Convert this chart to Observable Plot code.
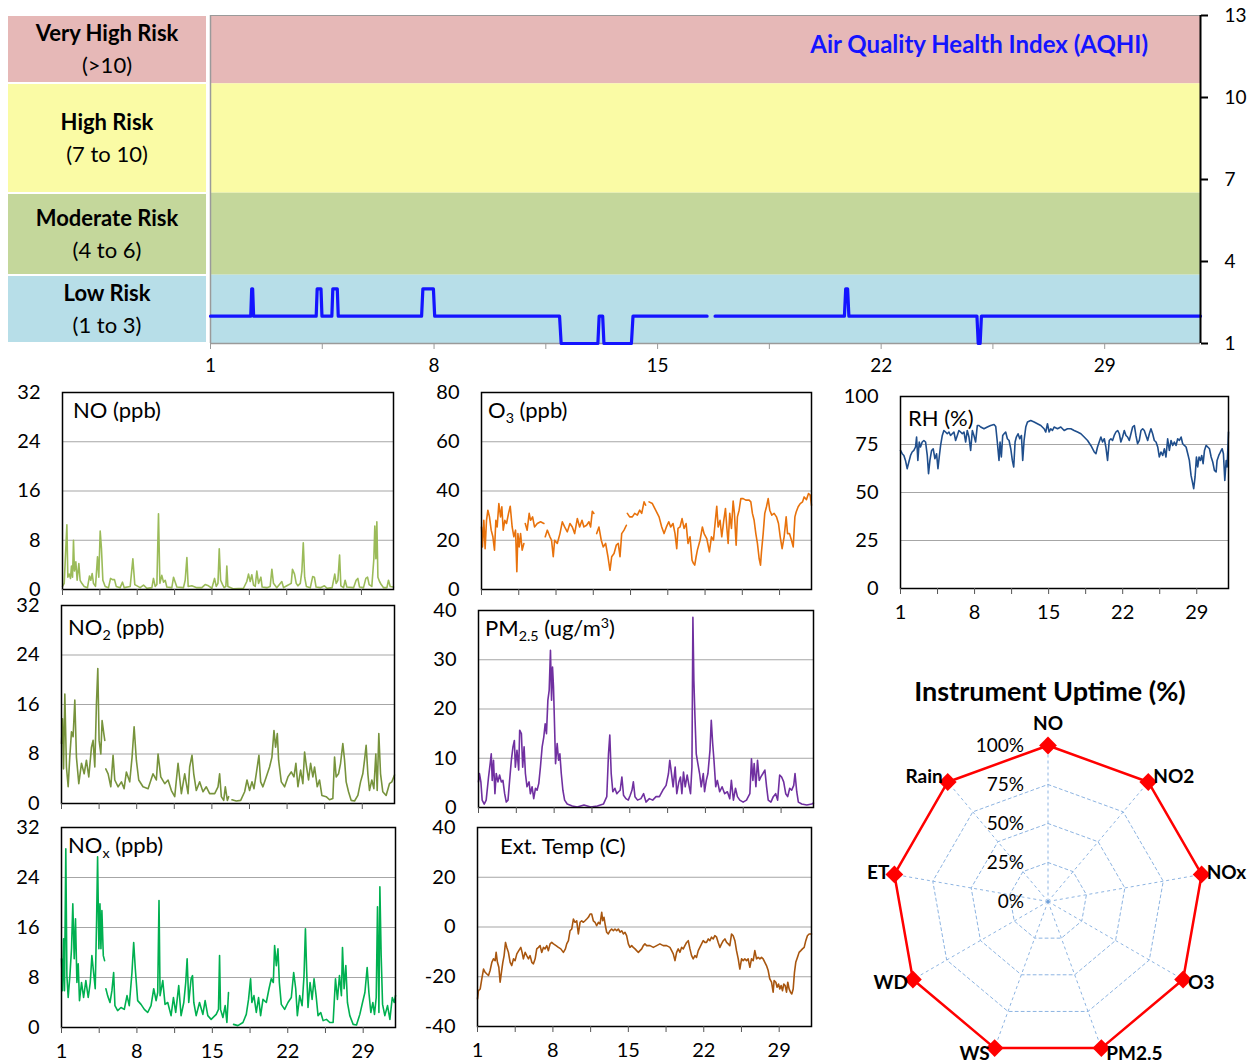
<!DOCTYPE html>
<html><head><meta charset="utf-8">
<script src="https://cdn.jsdelivr.net/npm/d3@7"></script>
<script src="https://cdn.jsdelivr.net/npm/@observablehq/plot@0.6"></script>
<style>
body{margin:0;background:#fff;font-family:Lato,"Open Sans",sans-serif;}
#root{position:relative;width:1255px;height:1064px;overflow:hidden;}
.abs{position:absolute;}
.box{position:absolute;display:flex;flex-direction:column;align-items:center;justify-content:center;font-size:22px;line-height:32px;color:#000;}
.ttl{position:absolute;font-size:22px;color:#000;white-space:nowrap;line-height:22px;}
sub,sup{font-size:0.65em;line-height:0;}
</style></head><body><div id="root"></div><script>
// ---------- data ----------
const bandNames = ["Very High Risk","High Risk","Moderate Risk","Low Risk"];
const bandRanges = ["(>10)","(7 to 10)","(4 to 6)","(1 to 3)"];
const bandLo = [10.5, 6.5, 3.5, 1];
const bandHi = [13, 10.5, 6.5, 3.5];
const bandColors = ["#E6B8B7","#FAFBA5","#C4D79B","#B7DEE8"];
const aqhiTicks = [1,4,7,10,13];
const xTicks = [1,4.5,8,11.5,15,18.5,22,25.5,29];
const xLabels = [1,8,15,22,29];

const aqhi = [[1,2],[2.26,2],[2.29,3],[2.32,3],[2.35,2],[4.31,2],[4.34,3],[4.46,3],[4.49,2],[4.80,2],[4.83,3],[4.97,3],[5.0,2],[7.61,2],[7.65,3],[7.98,3],[8.02,2],[11.93,2],[11.98,1],[13.13,1],[13.17,2],[13.28,2],[13.32,1],[14.18,1],[14.23,2],[16.55,2],[16.6,NaN],[16.8,2],[20.85,2],[20.89,3],[20.95,3],[20.99,2],[25.0,2],[25.04,1],[25.1,1],[25.14,2],[32,2]];

const noTicks = [0,8,16,24,32];
const o3Ticks = [0,20,40,60,80];
const pmTicks = [0,10,20,30,40];
const tempTicks = [-40,-20,0,20,40];
const rhTicks = [0,25,50,75,100];

const noSeries = [[1.00,0.5],[1.16,1.0],[1.41,10.5],[1.50,2],[1.62,2.5],[1.75,1.8],[1.84,3.8],[1.94,2],[2.03,8],[2.12,3],[2.25,4.5],[2.37,1.5],[2.53,4.2],[2.65,1.5],[2.81,1],[3.03,0.5],[3.34,0.3],[3.53,2.2],[3.65,1.5],[3.78,2.6],[3.90,1],[4.09,0.5],[4.28,5.3],[4.40,2],[4.53,9.5],[4.65,6.6],[4.78,1.5],[5.00,0.5],[5.31,0.3],[5.50,1.8],[5.68,1.6],[5.87,1.6],[6.03,0.5],[6.40,0.3],[6.62,1.2],[6.78,0.3],[7.34,0.5],[7.59,5],[7.77,0.8],[8.27,0.3],[8.59,0.7],[8.90,0.2],[9.37,0.3],[9.52,1.8],[9.68,0.5],[9.84,0.8],[9.99,12.3],[10.12,1],[10.30,2.3],[10.46,1.2],[10.62,1.5],[10.77,0.4],[11.24,0.3],[11.40,2],[11.55,1.2],[11.71,0.4],[12.33,0.3],[12.49,1.5],[12.65,5.2],[12.77,0.5],[13.11,0.6],[13.58,0.3],[14.05,0.3],[14.36,0.8],[14.67,0.6],[14.99,0.2],[15.24,1.8],[15.40,0.5],[15.56,1],[15.68,6.6],[15.81,1.5],[15.99,0.8],[16.14,0.3],[16.30,0.5],[16.39,3.8],[16.49,0.5],[17.02,0.1],[17.95,0.2],[18.26,1.3],[18.42,2.5],[18.58,1.3],[18.73,2.4],[18.89,0.7],[19.05,0.5],[19.20,3],[19.36,1],[19.58,2],[19.70,0.4],[20.14,0.3],[20.45,0.5],[20.61,3.3],[20.76,1],[21.07,0.3],[21.54,1.3],[21.70,0.3],[22.01,0.6],[22.42,1],[22.54,3.3],[22.73,2.5],[22.89,1],[23.05,0.6],[23.27,1],[23.42,3],[23.55,7.6],[23.68,2],[23.84,0.5],[24.21,0.3],[24.43,2.1],[24.59,2],[24.75,0.4],[25.16,0.3],[25.53,0.6],[25.78,0.2],[26.25,0.3],[26.50,2.5],[26.63,1],[26.79,1.5],[26.95,5.6],[27.07,0.6],[27.32,0.3],[27.47,1.5],[27.63,0.4],[28.26,0.3],[28.50,1.5],[28.66,1.8],[28.82,0.4],[29.19,0.3],[29.41,1.8],[29.57,2],[29.72,0.8],[29.97,0.5],[30.16,5],[30.25,10.3],[30.35,5],[30.44,11],[30.54,2],[30.69,1.3],[30.85,0.8],[31.07,0.3],[31.38,0.3],[31.53,1.5],[31.69,0.5],[32.00,0.4]];

const no2Series = [[1.00,9.7],[1.09,13.7],[1.19,5.6],[1.31,17.7],[1.46,5.9],[1.62,2.7],[1.77,7.5],[1.93,11.6],[2.08,10.8],[2.24,16.7],[2.39,7.5],[2.61,3.2],[2.86,6.5],[3.11,4.8],[3.32,7],[3.54,4.3],[3.79,9.1],[3.94,10.2],[4.10,5.9],[4.25,16],[4.38,21.8],[4.50,10.2],[4.66,8],[4.78,13.4],[4.94,11.3],[5.03,10.2],[5.07,NaN],[5.12,5.6],[5.34,4.8],[5.59,2.7],[5.80,7.8],[5.96,3.8],[6.27,2.7],[6.58,3.5],[6.83,2.4],[7.04,5.1],[7.35,3.5],[7.57,7.5],[7.76,12.4],[7.97,7],[8.19,3.8],[8.59,2.7],[9.06,2.4],[9.52,4.8],[9.83,3.8],[9.99,8],[10.24,4.3],[10.61,3.2],[10.92,3.8],[11.23,2.1],[11.54,1.1],[11.85,6.5],[12.16,1.6],[12.47,4.8],[12.78,1.6],[12.93,5.9],[13.15,7.8],[13.31,4.8],[13.55,2.1],[13.86,3.5],[14.17,1.9],[14.48,2.7],[14.79,1.6],[15.26,1.6],[15.57,2.7],[15.72,4.8],[15.88,1.1],[16.10,0.5],[16.25,2.7],[16.44,0.5],[16.56,1.1],[16.7,NaN],[16.87,0.6],[17.27,0.4],[17.68,0.5],[18.05,1.9],[18.27,3.8],[18.51,2.1],[18.73,3.5],[18.92,2.4],[19.13,4.8],[19.38,7.8],[19.54,3.5],[19.75,2.7],[20.06,4.3],[20.37,5.9],[20.59,7.5],[20.78,11.8],[20.93,9.1],[21.09,11.3],[21.21,7],[21.46,3.5],[21.77,2.7],[22.08,4.3],[22.39,5.1],[22.64,4.3],[22.82,6.5],[23.01,2.7],[23.26,5.4],[23.47,3.2],[23.63,8.3],[23.81,5.9],[24.00,3.8],[24.19,6.5],[24.40,4.3],[24.56,5.9],[24.81,2.7],[25.02,3.8],[25.24,1.3],[25.64,1.1],[25.95,0.6],[26.26,0.8],[26.42,7.5],[26.57,4.3],[26.79,4.8],[26.98,6.5],[27.19,9.7],[27.35,7],[27.50,3.5],[27.72,1.9],[27.97,0.5],[28.28,0.4],[28.59,1.3],[28.84,3.5],[29.05,4.8],[29.21,7],[29.36,9.4],[29.52,4.8],[29.67,2.1],[29.89,3.8],[30.08,2.4],[30.26,8],[30.39,2.1],[30.54,11.3],[30.70,4.8],[30.91,1.9],[31.22,1.3],[31.53,3.2],[31.75,3.5],[32.00,4.6]];

const noxSeries = [[1.00,11],[1.09,5.9],[1.19,14.2],[1.28,5.9],[1.40,28.6],[1.50,8.3],[1.62,4.8],[1.78,8.3],[1.93,12.6],[2.05,19.8],[2.18,11],[2.30,17.4],[2.43,7.2],[2.55,10.2],[2.67,4.3],[2.86,7.2],[3.05,4.8],[3.26,7.5],[3.48,4.8],[3.67,7.2],[3.82,11.5],[3.98,8.8],[4.13,6.2],[4.26,17.4],[4.35,27.3],[4.47,12.6],[4.57,19.8],[4.66,12.6],[4.75,18.7],[4.88,11.5],[5.00,10.7],[5.06,NaN],[5.12,6.2],[5.28,5.1],[5.50,4],[5.68,5.9],[5.84,8.8],[5.96,3.5],[6.21,2.7],[6.52,3.2],[6.83,2.9],[7.08,5.1],[7.29,3.5],[7.54,8.8],[7.70,13.6],[7.85,9.4],[8.07,4.3],[8.38,3.7],[8.69,2.9],[9.00,2.4],[9.31,3.5],[9.56,6.2],[9.78,4.3],[9.93,5.6],[10.05,20.3],[10.15,5.1],[10.40,7.5],[10.61,3.7],[10.86,4],[11.17,1.9],[11.39,4.8],[11.60,2.4],[11.88,6.7],[12.10,1.9],[12.35,4],[12.53,7.2],[12.66,11],[12.81,4],[13.03,7.8],[13.16,8.3],[13.28,4],[13.50,1.9],[13.81,4],[14.12,2.1],[14.33,4.3],[14.58,1.9],[14.89,1.3],[15.36,2.1],[15.57,2.9],[15.67,11.5],[15.76,2.9],[15.98,1.6],[16.19,3.5],[16.35,0.8],[16.50,5.6],[16.7,NaN],[16.97,0.5],[17.37,0.3],[17.84,0.8],[18.15,2.1],[18.36,4.5],[18.55,7.8],[18.67,4],[18.86,5.1],[19.08,2.4],[19.29,4.8],[19.48,1.9],[19.70,4.5],[20.01,4],[20.26,6.2],[20.47,7.8],[20.66,7.2],[20.78,13.1],[20.94,9.9],[21.09,12.6],[21.22,7.2],[21.40,3.7],[21.71,2.9],[22.02,4],[22.33,4.8],[22.55,8.8],[22.74,6.2],[22.89,1.9],[23.11,5.1],[23.33,3.5],[23.51,8.3],[23.64,15.8],[23.76,8.8],[23.88,3.2],[24.07,7.2],[24.26,4.5],[24.44,7.8],[24.63,5.1],[24.81,1.9],[25.06,2.4],[25.28,1.1],[25.59,1.3],[25.90,0.8],[26.21,0.8],[26.43,7.8],[26.61,4.5],[26.80,8.3],[26.98,5.1],[27.08,12.8],[27.23,6.2],[27.39,9.9],[27.54,4],[27.76,1.9],[28.07,0.5],[28.38,0.4],[28.69,2.1],[28.94,4],[29.16,5.6],[29.37,9.6],[29.53,5.6],[29.71,2.4],[29.90,4],[30.05,2.1],[30.21,4.8],[30.33,19.3],[30.46,2.4],[30.55,22.5],[30.67,11.5],[30.80,3.7],[31.01,1.9],[31.26,3.5],[31.48,1.3],[31.70,4.8],[31.88,4],[32.00,5.1]];

const o3Series = [[1.00,25.4],[1.09,17.3],[1.22,28.1],[1.34,16.6],[1.47,28.1],[1.60,32.2],[1.75,29.5],[1.91,24.1],[2.07,21.4],[2.22,16],[2.35,28.1],[2.47,25.4],[2.63,34.9],[2.79,29.5],[2.91,33.6],[3.04,24.1],[3.19,28.1],[3.35,26.8],[3.54,30.9],[3.70,33.8],[3.88,25.4],[4.04,21.4],[4.20,24.1],[4.32,7.2],[4.42,22.7],[4.54,17.3],[4.67,22.7],[4.82,16],[4.98,18.7],[5.05,NaN],[5.11,26.8],[5.29,24.1],[5.48,30.9],[5.61,28.1],[5.80,29.5],[5.98,25.4],[6.24,26.8],[6.55,27.5],[6.86,26.8],[6.93,NaN],[6.99,21.4],[7.18,24.1],[7.43,21.4],[7.58,20],[7.74,13.3],[7.87,20],[8.12,18.7],[8.37,22.7],[8.59,27.5],[8.81,25.4],[9.06,23.4],[9.31,26.8],[9.53,25.4],[9.75,22.7],[10.00,28.8],[10.22,25.4],[10.44,28.1],[10.62,25.4],[10.87,26.1],[11.09,27.5],[11.25,25.4],[11.41,31.8],[11.56,30.9],[11.7,NaN],[11.82,22.7],[12.03,25.4],[12.25,20],[12.44,17.3],[12.66,18.7],[12.88,13.3],[13.07,7.8],[13.23,13.3],[13.45,14.6],[13.66,18],[13.85,18.7],[14.01,13.3],[14.17,22.7],[14.39,24.1],[14.61,26.1],[14.65,NaN],[14.70,30.9],[14.92,29.5],[15.17,29.5],[15.39,30.9],[15.64,30.2],[15.86,32.2],[16.05,30.9],[16.27,35.6],[16.42,34.2],[16.55,NaN],[16.74,35.6],[17.05,34.9],[17.36,32.2],[17.68,29.5],[17.93,25.4],[18.15,22.7],[18.37,25.4],[18.59,27.5],[18.77,25.4],[18.99,26.8],[19.18,22.7],[19.34,16.6],[19.46,24.8],[19.65,25.4],[19.84,28.8],[20.03,24.8],[20.22,26.8],[20.40,18.7],[20.59,21.4],[20.78,11.9],[20.91,10.6],[21.03,9.9],[21.16,13.3],[21.28,16],[21.53,20],[21.75,25.4],[21.91,22.7],[22.16,20.7],[22.41,15.3],[22.60,21.4],[22.79,20],[22.97,28.1],[23.10,33.8],[23.23,25.4],[23.41,28.1],[23.57,21.4],[23.76,28.1],[23.92,32.9],[24.04,25.4],[24.17,18.7],[24.32,30.9],[24.48,24.8],[24.64,35.9],[24.76,30.9],[24.92,18],[25.04,29.5],[25.20,32.2],[25.36,36.9],[25.58,36.9],[25.83,36.3],[26.14,36.3],[26.30,35.6],[26.45,30.9],[26.61,28.1],[26.77,22.7],[26.92,18.7],[27.08,12.6],[27.21,9.9],[27.30,15.3],[27.46,22.7],[27.61,30.9],[27.77,33.6],[27.93,36.9],[28.08,32.2],[28.27,30.2],[28.49,30.9],[28.71,29.5],[28.90,26.8],[29.06,21.4],[29.24,16.6],[29.43,21.4],[29.62,29.5],[29.75,22.7],[29.93,22.7],[30.12,20],[30.28,17.3],[30.44,29.5],[30.56,31.5],[30.75,33.6],[30.94,34.9],[31.16,35.6],[31.31,37.6],[31.53,36.5],[31.72,39],[31.88,38.3],[32.00,34.2]];

const pm25Series = [[1.00,5.2],[1.09,6.9],[1.22,5.2],[1.34,1.5],[1.53,0.7],[1.71,1.5],[1.93,6.2],[2.08,8.9],[2.18,10.9],[2.27,5.5],[2.39,9.6],[2.52,2.8],[2.64,6.9],[2.80,5.2],[2.95,6.6],[3.11,5.2],[3.26,5.5],[3.42,2.8],[3.57,1.1],[3.73,1.5],[3.88,5.5],[4.04,9.6],[4.19,12.3],[4.32,13.6],[4.41,8.2],[4.56,11.6],[4.72,7.6],[4.81,15.7],[4.97,15],[5.09,8.2],[5.22,12.3],[5.34,6.9],[5.49,4.2],[5.68,5.2],[5.80,2.8],[5.96,4.2],[6.11,1.8],[6.27,3.9],[6.42,3.5],[6.58,4.9],[6.73,8.2],[6.89,12.3],[7.04,14.3],[7.17,17],[7.29,15],[7.42,21.8],[7.54,23.8],[7.66,31.9],[7.76,21.8],[7.85,28.5],[7.94,24.5],[8.04,16.4],[8.13,8.9],[8.28,13],[8.41,9.6],[8.53,10.9],[8.66,6.9],[8.81,3.5],[8.97,1.5],[9.21,0.7],[9.68,0.3],[10.14,0.1],[10.76,0.5],[11.38,0.1],[12.00,0.3],[12.56,0.7],[12.87,2.2],[13.03,10.9],[13.15,14.7],[13.28,6.9],[13.43,3.2],[13.62,3.9],[13.80,2.8],[13.96,3.2],[14.11,3.5],[14.27,6.2],[14.42,2.5],[14.64,1.8],[14.86,1.5],[15.04,2.5],[15.20,3.5],[15.33,5.2],[15.48,2.2],[15.72,1.5],[16.03,1.8],[16.28,2.8],[16.50,1.1],[16.81,1.8],[17.12,1.5],[17.43,2.2],[17.74,2.2],[18.05,3.5],[18.36,4.5],[18.58,6.9],[18.70,9.6],[18.82,7.6],[19.01,4.2],[19.20,8.2],[19.35,2.8],[19.54,5.2],[19.69,6.2],[19.82,2.8],[19.97,7.2],[20.13,4.2],[20.31,6.6],[20.50,4.2],[20.62,2.8],[20.75,8.2],[20.84,38.6],[20.93,25.8],[21.03,18.4],[21.15,10.9],[21.30,8.9],[21.46,6.9],[21.61,4.2],[21.80,6.9],[21.92,3.2],[22.08,5.5],[22.23,6.9],[22.42,11.6],[22.54,17.7],[22.67,13],[22.79,9.6],[22.95,4.2],[23.10,5.5],[23.32,3.2],[23.54,4.2],[23.78,2.8],[24.03,3.2],[24.25,1.8],[24.40,5.5],[24.59,1.5],[24.78,3.9],[24.96,2.2],[25.18,1.5],[25.49,1.1],[25.80,1.5],[26.11,2.8],[26.26,9.9],[26.39,5.5],[26.51,8.9],[26.67,4.2],[26.82,9.6],[26.98,5.5],[27.13,6.2],[27.32,6.9],[27.50,7.6],[27.66,4.2],[27.81,1.5],[28.06,1.1],[28.28,2.2],[28.50,2.8],[28.68,1.5],[28.87,6.6],[29.05,6.2],[29.24,5.2],[29.43,2.8],[29.61,2.2],[29.80,3.9],[29.98,3.5],[30.17,4.5],[30.29,6.9],[30.45,3.2],[30.60,1.1],[30.91,0.7],[31.38,0.5],[31.84,0.7],[32.00,0.9]];

const tempSeries = [[1.00,-28.9],[1.09,-25.6],[1.25,-24.9],[1.40,-20.9],[1.56,-16.9],[1.71,-18.2],[1.87,-18.9],[2.02,-19.5],[2.17,-17.5],[2.33,-14.2],[2.48,-12.8],[2.64,-13.5],[2.73,-10.2],[2.85,-14.2],[2.98,-16.2],[3.10,-22.2],[3.22,-18.2],[3.35,-14.2],[3.47,-11.5],[3.60,-6.2],[3.72,-8.2],[3.87,-10.2],[4.03,-14.2],[4.18,-15.5],[4.34,-12.8],[4.49,-13.5],[4.65,-10.8],[4.83,-9.5],[5.02,-8.2],[5.14,-10.2],[5.26,-12.8],[5.42,-10.2],[5.57,-11.5],[5.73,-12.8],[5.88,-11.5],[6.04,-14.2],[6.19,-14.8],[6.35,-12.8],[6.50,-8.8],[6.66,-8.2],[6.81,-7.5],[6.96,-10.2],[7.12,-8.2],[7.27,-8.8],[7.43,-7.5],[7.58,-9.5],[7.74,-6.8],[7.89,-6.2],[8.05,-6.8],[8.29,-7.5],[8.51,-8.2],[8.73,-8.8],[8.97,-10.2],[9.16,-8.8],[9.28,-6.8],[9.44,-5.5],[9.59,-1.5],[9.75,-0.8],[9.90,3.2],[10.05,1.9],[10.21,2.5],[10.36,-2.8],[10.52,1.9],[10.67,2.5],[10.83,1.9],[10.98,2.5],[11.14,3.2],[11.29,3.9],[11.45,5.2],[11.60,5.2],[11.75,2.5],[11.91,1.9],[12.06,0.5],[12.22,1.9],[12.37,1.2],[12.53,5.9],[12.62,2.5],[12.74,3.9],[12.87,0.5],[12.99,-2.1],[13.14,-2.8],[13.30,-1.5],[13.45,-0.8],[13.61,-1.5],[13.76,-0.8],[13.92,-1.5],[14.07,-0.8],[14.23,-2.1],[14.38,-1.5],[14.54,-2.8],[14.69,-2.1],[14.84,-3.5],[15.00,-6.8],[15.15,-8.2],[15.31,-7.5],[15.46,-8.2],[15.62,-8.8],[15.77,-9.5],[15.93,-10.2],[16.08,-9.5],[16.24,-8.8],[16.39,-7.5],[16.54,-6.8],[16.70,-7.5],[17.01,-7.5],[17.32,-8.2],[17.63,-7.5],[17.93,-6.8],[18.24,-7.5],[18.55,-7.5],[18.86,-8.2],[19.02,-9.5],[19.17,-10.8],[19.33,-13.5],[19.48,-10.2],[19.63,-8.8],[19.79,-10.2],[19.94,-8.2],[20.10,-8.8],[20.25,-7.5],[20.41,-6.2],[20.56,-5.5],[20.72,-8.8],[20.87,-11.5],[21.02,-12.8],[21.18,-11.5],[21.33,-12.2],[21.49,-9.5],[21.64,-8.2],[21.80,-6.8],[21.95,-5.5],[22.11,-6.2],[22.26,-6.2],[22.42,-4.8],[22.57,-5.5],[22.72,-4.1],[22.88,-4.8],[23.03,-3.5],[23.19,-4.1],[23.34,-6.2],[23.50,-8.2],[23.65,-6.8],[23.81,-5.5],[23.96,-4.8],[24.12,-6.2],[24.27,-6.8],[24.42,-7.5],[24.58,-2.8],[24.73,-3.5],[24.89,-5.5],[25.04,-9.5],[25.20,-12.8],[25.35,-16.9],[25.51,-12.8],[25.66,-13.5],[25.81,-12.8],[25.97,-13.5],[26.12,-12.8],[26.28,-16.2],[26.43,-12.8],[26.59,-13.5],[26.74,-9.5],[26.90,-12.8],[27.05,-12.2],[27.21,-12.8],[27.36,-12.2],[27.51,-12.8],[27.67,-14.2],[27.82,-15.5],[27.98,-17.5],[28.13,-20.9],[28.29,-22.2],[28.44,-26.2],[28.53,-21.5],[28.69,-22.2],[28.81,-24.2],[28.94,-22.9],[29.06,-24.9],[29.18,-23.5],[29.31,-25.6],[29.43,-22.9],[29.55,-23.5],[29.68,-26.2],[29.80,-22.2],[29.92,-24.9],[30.05,-26.2],[30.17,-26.9],[30.30,-24.9],[30.42,-18.2],[30.54,-14.2],[30.70,-12.2],[30.85,-10.2],[31.01,-9.5],[31.16,-8.8],[31.32,-8.2],[31.47,-5.5],[31.62,-3.5],[31.78,-2.8],[32.00,-2.8]];

const rhSeries = [[1.00,71.9],[1.16,70.2],[1.32,69.3],[1.47,66.7],[1.63,62.4],[1.79,65.9],[1.95,69.3],[2.10,71.1],[2.26,71.9],[2.42,73.7],[2.52,78.9],[2.64,66.7],[2.77,76.3],[2.89,73.7],[3.05,76.3],[3.21,77.1],[3.37,76.3],[3.53,69.3],[3.65,59.8],[3.78,66.7],[3.94,71.9],[4.09,72.8],[4.25,67.6],[4.41,70.2],[4.54,62.4],[4.66,68.5],[4.79,74.5],[4.95,79.7],[5.10,82.3],[5.26,81.5],[5.42,80.6],[5.58,81.5],[5.73,79.7],[5.89,80.6],[6.05,81.5],[6.21,77.1],[6.37,79.7],[6.52,82.3],[6.68,81.5],[6.84,80.6],[7.00,81.5],[7.16,76.3],[7.31,82.3],[7.47,78.9],[7.63,71.9],[7.79,82.3],[7.94,79.7],[8.10,76.3],[8.26,84.9],[8.42,84.9],[8.58,84.1],[8.89,83.2],[9.21,84.1],[9.52,84.9],[9.84,85.4],[10.00,84.4],[10.15,76.3],[10.31,66.7],[10.41,76.3],[10.53,68.5],[10.66,79.7],[10.79,80.6],[10.94,81.5],[11.10,78],[11.26,77.1],[11.42,72.8],[11.57,66.7],[11.70,63.3],[11.83,76.3],[11.95,78.9],[12.11,80.6],[12.27,78],[12.43,79.7],[12.55,66.7],[12.68,77.1],[12.84,84.1],[13.00,86.7],[13.31,87.5],[13.63,86.7],[13.94,85.8],[14.26,84.9],[14.57,83.2],[14.73,81.5],[14.89,85.8],[15.05,81.5],[15.20,83.2],[15.36,82.3],[15.52,84.1],[15.84,83.2],[16.15,84.1],[16.47,82.3],[16.78,83.2],[17.10,83.2],[17.41,82.3],[17.73,81.5],[18.05,80.6],[18.36,78.9],[18.68,77.1],[18.99,74.5],[19.31,71.1],[19.47,70.2],[19.62,73.7],[19.78,76.3],[19.94,78.9],[20.10,76.3],[20.26,78],[20.41,73.7],[20.57,66.7],[20.73,77.1],[20.89,78],[21.04,77.1],[21.20,79.7],[21.36,81.5],[21.52,82.3],[21.68,80.6],[21.83,76.3],[21.99,78.9],[22.15,82.3],[22.31,79.7],[22.46,78.9],[22.62,77.1],[22.78,80.6],[22.94,84.1],[23.10,84.9],[23.25,79.7],[23.41,75.4],[23.57,77.1],[23.73,82.3],[23.89,83.2],[24.04,82.3],[24.20,79.7],[24.36,77.1],[24.52,80.6],[24.67,83.2],[24.83,80.6],[24.99,77.1],[25.15,76.3],[25.31,73.7],[25.46,68.5],[25.62,71.1],[25.78,69.3],[25.94,72.8],[26.09,68.5],[26.25,78],[26.41,71.9],[26.57,77.1],[26.73,74.5],[26.88,76.3],[27.04,74.5],[27.20,78],[27.36,77.1],[27.52,78.9],[27.67,75.4],[27.83,74.5],[27.99,73.7],[28.15,70.2],[28.30,66.7],[28.46,58.9],[28.62,54.6],[28.71,52],[28.84,58.1],[28.97,68.5],[29.09,63.3],[29.22,68.5],[29.35,66.7],[29.47,69.3],[29.60,65],[29.73,71.9],[29.88,74.5],[30.04,73.7],[30.20,72.8],[30.36,68.5],[30.51,65.9],[30.67,61.5],[30.83,60.7],[30.92,66.7],[31.08,69.3],[31.24,71.1],[31.40,72.8],[31.52,70.2],[31.65,56.3],[31.78,66.7],[31.87,63.3],[32.00,81.5]];

const uptimeCats = ["NO","NO2","NOx","O3","PM2.5","WS","WD","ET","Rain"];
const uptimeVals = [100,100,100,100,100,100,100,100,100];
const ringLevels = [0,25,50,75,100];

// ---------- layout helpers ----------
const root = document.getElementById("root");
const FONT = "Lato, 'Open Sans', sans-serif";
const baseStyle = {background:"transparent", fontFamily: FONT, fontSize:"20px", color:"#000", overflow:"visible"};
function place(node, left, topPx){
  const d = document.createElement("div");
  d.className = "abs"; d.style.left = left+"px"; d.style.top = topPx+"px";
  d.appendChild(node); root.appendChild(d); return d;
}
function html(cls, h, css){
  const d = document.createElement("div"); d.className = cls; d.innerHTML = h;
  Object.assign(d.style, css); root.appendChild(d); return d;
}

// ---------- top AQHI panel ----------
const aqhiChart = Plot.plot({
  width: 1255, height: 380,
  marginLeft: 210, marginRight: 55, marginTop: 15, marginBottom: 37,
  x: {domain: [1, 32]},
  y: {domain: [1, 13]},
  style: {...baseStyle, fontSize: "19px"},
  marks: [
    ...bandLo.map((lo, i) => Plot.rect([{lo, hi: bandHi[i]}], {x1: 1, x2: 32, y1: "lo", y2: "hi", fill: bandColors[i]})),
    Plot.ruleY([13], {stroke: "#9a9a9a", strokeWidth: 1.2}),
    Plot.ruleX([1], {stroke: "#9a9a9a", strokeWidth: 1.5}),
    Plot.ruleY([1], {stroke: "#9a9a9a", strokeWidth: 1.5}),
    Plot.line(aqhi, {x: d => d[0], y: d => d[1], stroke: "#1414FF", strokeWidth: 3.2}),
    Plot.ruleX([32], {stroke: "#000", strokeWidth: 2}),
    Plot.axisY({anchor: "right", ticks: aqhiTicks, tickSize: 7, tickPadding: 17, stroke: "#000", strokeWidth: 2}),
    Plot.axisX({ticks: xTicks, tickSize: 6, tickPadding: 9, stroke: "#9a9a9a", tickFormat: d => xLabels.includes(d) ? String(d) : ""})
  ]
});
place(aqhiChart, 0, 0);
const ys = aqhiChart.scale("y");
bandNames.forEach((name, i) => {
  const t = ys.apply(bandHi[i]), b = ys.apply(bandLo[i]);
  html("box", `<b>${name}</b><span>${bandRanges[i]}</span>`,
    {left: "8px", width: "198px", top: (t + 1) + "px", height: (b - t - 2) + "px", background: bandColors[i]});
});
html("ttl", "Air Quality Health Index (AQHI)", {right: "107px", top: "32px", fontSize: "24px", fontWeight: "700", color: "#1414FF", lineHeight: "24px"});

// ---------- small panels ----------
function panel(cfg){
  const {x0, x1, y0, y1} = cfg.frame;
  const ML = 70, MR = 12, MT = 14, MB = 44;
  const t = cfg.ticks;
  const svg = Plot.plot({
    width: x1 - x0 + ML + MR, height: y1 - y0 + MT + MB,
    marginLeft: ML, marginRight: MR, marginTop: MT, marginBottom: MB,
    x: {domain: [1, 32]},
    y: {domain: [t[0], t[t.length - 1]]},
    style: baseStyle,
    marks: [
      Plot.gridY({ticks: t.slice(1, -1), stroke: "#a6a6a6", strokeOpacity: 1, strokeWidth: 1.2}),
      Plot.line(cfg.data, {x: d => d[0], y: d => d[1], stroke: cfg.color, strokeWidth: 1.6}),
      Plot.frame({stroke: "#000", strokeWidth: 1.5}),
      Plot.axisY({ticks: t, tickSize: 0, tickPadding: 22, tickFormat: d => String(d)}),
      Plot.axisX({ticks: xTicks, tickSize: 6, tickPadding: cfg.pad, stroke: "#555",
        tickFormat: d => cfg.labels && xLabels.includes(d) ? String(d) : ""})
    ]
  });
  place(svg, x0 - ML, y0 - MT);
  html("ttl", cfg.title, {left: cfg.tx + "px", top: (cfg.ty - 11) + "px"});
}

panel({data: noSeries,   color: "#9BBB59", ticks: noTicks,   frame: {x0: 62,  x1: 393,  y0: 392, y1: 589}, labels: false, pad: 9, title: "NO (ppb)", tx: 73, ty: 410});
panel({data: no2Series,  color: "#77933C", ticks: noTicks,   frame: {x0: 61,  x1: 394,  y0: 605, y1: 803}, labels: false, pad: 9, title: "NO<sub>2</sub> (ppb)", tx: 68, ty: 627});
panel({data: noxSeries,  color: "#00B050", ticks: noTicks,   frame: {x0: 61,  x1: 395,  y0: 827, y1: 1027}, labels: true, pad: 10, title: "NO<sub>x</sub> (ppb)", tx: 68, ty: 845});
panel({data: o3Series,   color: "#E8720C", ticks: o3Ticks,   frame: {x0: 481, x1: 811,  y0: 392, y1: 589}, labels: false, pad: 9, title: "O<sub>3</sub> (ppb)", tx: 488, ty: 410});
panel({data: pm25Series, color: "#7030A0", ticks: pmTicks,   frame: {x0: 478, x1: 813,  y0: 610, y1: 807}, labels: false, pad: 9, title: "PM<sub>2.5</sub> (ug/m<sup>3</sup>)", tx: 485, ty: 628});
panel({data: tempSeries, color: "#A8560F", ticks: tempTicks, frame: {x0: 477, x1: 811,  y0: 827, y1: 1026}, labels: true, pad: 10, title: "Ext. Temp (C)", tx: 500, ty: 846});
panel({data: rhSeries,   color: "#1F4E8C", ticks: rhTicks,   frame: {x0: 900, x1: 1228, y0: 396, y1: 588}, labels: true, pad: 10, title: "RH (%)", tx: 908, ty: 418});

// ---------- radar ----------
const nCat = uptimeCats.length;
const spokes = uptimeCats.map((c, i) => ({c, a: i * 2 * Math.PI / nCat}));
const ringPts = ringLevels.slice(1).flatMap(L => [...spokes, spokes[0]].map(s => ({ring: L, x: L / 100 * Math.sin(s.a), y: L / 100 * Math.cos(s.a)})));
const valPts = spokes.map((s, i) => ({c: s.c, a: s.a, r: uptimeVals[i] / 100})).map(d => ({...d, x: d.r * Math.sin(d.a), y: d.r * Math.cos(d.a)}));
const R = 156;
const lab = valPts.map(d => ({...d, side: Math.abs(Math.sin(d.a)) < 0.1 ? "middle" : (Math.sin(d.a) > 0 ? "start" : "end")}));
const radar = Plot.plot({
  width: 405, height: 364, margin: 0,
  x: {domain: [-1, 1], range: [197.5 - R, 197.5 + R], axis: null},
  y: {domain: [-1, 1], range: [201 + R, 201 - R], axis: null},
  style: {...baseStyle, fontSize: "19px"},
  marks: [
    Plot.line(ringPts, {x: "x", y: "y", z: "ring", stroke: "#8DB4E2", strokeWidth: 1, strokeDasharray: "3,3"}),
    Plot.link(spokes, {x1: 0, y1: 0, x2: d => Math.sin(d.a), y2: d => Math.cos(d.a), stroke: "#8DB4E2", strokeWidth: 1, strokeDasharray: "3,3"}),
    Plot.dot([0], {x: 0, y: 0, r: 1.5, fill: "#6F9FD8"}),
    Plot.line([...valPts, valPts[0]], {x: "x", y: "y", stroke: "#FF0000", strokeWidth: 2.5}),
    Plot.dot(valPts, {x: "x", y: "y", symbol: "diamond2", r: 8, fill: "#FF0000"}),
    Plot.text(ringLevels, {x: 0, y: d => d / 100, text: d => d + "%", textAnchor: "end", dx: -24, fontSize: 19}),
    Plot.text(lab.filter(d => d.side === "middle"), {x: "x", y: d => d.y + 22 / R, text: "c", fontWeight: "bold", fontSize: 19}),
    Plot.text(lab.filter(d => d.side === "start"), {x: d => d.x + 5 / R, y: d => d.y + 6 * Math.cos(d.a) / R, text: "c", textAnchor: "start", fontWeight: "bold", fontSize: 19}),
    Plot.text(lab.filter(d => d.side === "end"), {x: d => d.x - 5 / R, y: d => d.y + 6 * Math.cos(d.a) / R, text: "c", textAnchor: "end", fontWeight: "bold", fontSize: 19})
  ]
});
place(radar, 850, 700);
html("ttl", "Instrument Uptime (%)", {left: "850px", width: "400px", textAlign: "center", top: "677px", fontSize: "27px", fontWeight: "700", lineHeight: "28px"});
</script></body></html>
